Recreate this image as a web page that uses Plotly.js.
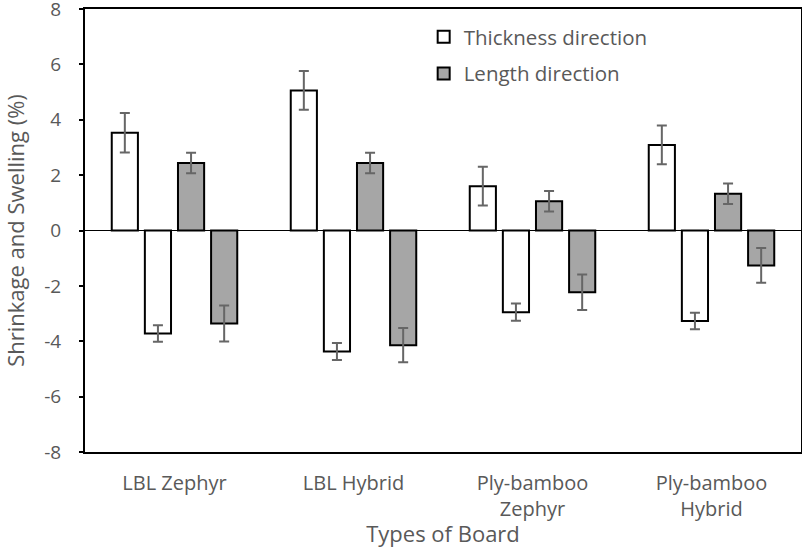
<!DOCTYPE html>
<html>
<head>
<meta charset="utf-8">
<script src="https://cdn.plot.ly/plotly-3.0.1.min.js"></script>
<style>html,body{margin:0;padding:0;background:#fff;}#chart{width:802px;height:548px;}</style>
</head>
<body>
<div id="chart"></div>
<script>
const categories = ["LBL Zephyr", "LBL Hybrid", "Ply-bamboo<br>Zephyr", "Ply-bamboo<br>Hybrid"];
const thicknessSwelling = [3.53, 5.06, 1.60, 3.09];
const thicknessSwellingErr = [0.71, 0.70, 0.70, 0.70];
const thicknessShrinkage = [-3.72, -4.37, -2.95, -3.27];
const thicknessShrinkageErr = [0.30, 0.31, 0.31, 0.30];
const lengthSwelling = [2.44, 2.44, 1.06, 1.33];
const lengthSwellingErr = [0.37, 0.37, 0.37, 0.37];
const lengthShrinkage = [-3.36, -4.14, -2.23, -1.26];
const lengthShrinkageErr = [0.65, 0.62, 0.64, 0.63];
const yTicks = [-8, -6, -4, -2, 0, 2, 4, 6, 8];

const textColor = "#595959";
const errStyle = {type: "data", visible: true, color: "#666666", thickness: 2, width: 5};

function barTrace(name, y, err, fill, showlegend, group) {
  return {
    type: "bar", name: name, x: categories, y: y,
    marker: {color: fill, line: {color: "#000000", width: 2}},
    error_y: Object.assign({array: err}, errStyle),
    showlegend: showlegend, legendgroup: group
  };
}

const data = [
  barTrace("Thickness direction", thicknessSwelling, thicknessSwellingErr, "#ffffff", true, "t"),
  barTrace("Thickness direction", thicknessShrinkage, thicknessShrinkageErr, "#ffffff", false, "t"),
  barTrace("Length direction", lengthSwelling, lengthSwellingErr, "#a6a6a6", true, "l"),
  barTrace("Length direction", lengthShrinkage, lengthShrinkageErr, "#a6a6a6", false, "l")
];

const layout = {
  width: 802, height: 548,
  margin: {l: 85, r: 1, t: 9, b: 96},
  paper_bgcolor: "#ffffff", plot_bgcolor: "#ffffff",
  font: {family: "Open Sans, sans-serif", color: textColor, size: 18},
  barmode: "group", bargap: 0.26, bargroupgap: 0.21,
  showlegend: true,
  legend: {
    x: 0.473, y: 0.982, xanchor: "left", yanchor: "top",
    bgcolor: "rgba(0,0,0,0)", font: {size: 20.5, color: textColor},
    traceorder: "grouped", tracegroupgap: 7, itemwidth: 30
  },
  xaxis: {
    type: "category", showline: true, mirror: true, linecolor: "#000000", linewidth: 2,
    ticks: "", showgrid: false, zeroline: false,
    tickfont: {size: 20, color: textColor}, ticklabelstandoff: 12,
    title: {text: "Types of Board", font: {size: 22, color: textColor}, standoff: 2},
    automargin: "top"
  },
  yaxis: {
    range: [-8, 8], tickvals: yTicks, ticktext: yTicks.map(String),
    showline: true, mirror: true, linecolor: "#000000", linewidth: 2,
    ticks: "outside", ticklen: 4, tickwidth: 2, tickcolor: "#000000",
    showgrid: false, zeroline: true, zerolinecolor: "#000000", zerolinewidth: 1.5,
    tickfont: {size: 19, color: textColor}, ticklabelstandoff: 14, ticklabeloverflow: "allow",
    title: {text: "Shrinkage and Swelling (%)", font: {size: 22, color: textColor}, standoff: 30},
    automargin: "right"
  }
};

Plotly.newPlot("chart", data, layout, {displayModeBar: false, staticPlot: true});
</script>
</body>
</html>
